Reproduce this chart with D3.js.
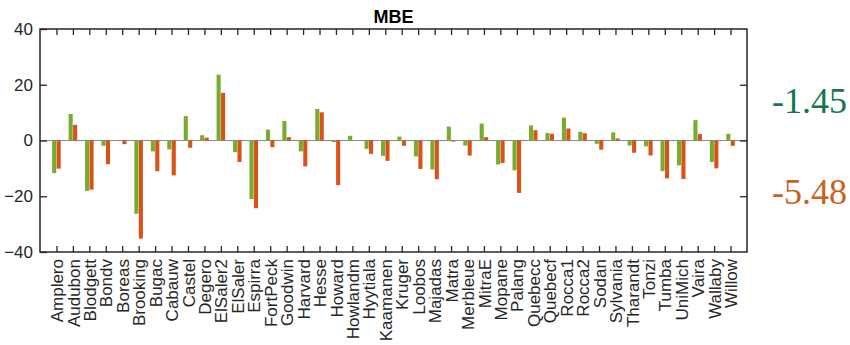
<!DOCTYPE html>
<html>
<head>
<meta charset="utf-8">
<script src="https://cdn.jsdelivr.net/npm/d3@7/dist/d3.min.js"></script>
<style>
  html, body { margin: 0; padding: 0; background: #fff; }
  svg { display: block; }
  .tick text { font-family: "Liberation Sans", Arial, sans-serif; fill: #262626; }
</style>
</head>
<body>
<svg id="chart" width="850" height="345"></svg>
<script>
// Sites along the x axis
const sites = ["Amplero","Audubon","Blodgett","Bondv","Boreas","Brooking","Bugac","Cabauw","Castel","Degero",
  "ElSaler2","ElSaler","Espirra","FortPeck","Goodwin","Harvard","Hesse","Howard","Howlandm","Hyytiala",
  "Kaamanen","Kruger","Loobos","Majadas","Matra","Merbleue","MitraE","Mopane","Palang","Quebecc",
  "Quebecf","Rocca1","Rocca2","Sodan","Sylvania","Tharandt","Tonzi","Tumba","UniMich","Vaira",
  "Wallaby","Willow"];

// Mean bias error per site, first model (green)
const mbeGreen = [-11.7, 9.5, -18.1, -1.9, 0.0, -26.3, -3.9, -3.2, 8.8, 1.9,
  23.6, -4.2, -21.0, 3.9, 7.0, -3.9, 11.3, -0.6, 1.7, -3.0,
  -5.5, 1.4, -5.7, -10.4, 5.0, -1.8, 6.1, -8.6, -10.7, 5.4,
  2.7, 8.2, 3.1, -1.2, 2.9, -1.8, -2.1, -11.0, -8.9, 7.3,
  -7.7, 2.4];

// Mean bias error per site, second model (orange)
const mbeOrange = [-10.1, 5.6, -17.6, -8.5, -1.3, -35.2, -11.0, -12.5, -2.6, 1.0,
  17.1, -7.7, -24.3, -2.4, 1.2, -9.3, 10.1, -16.0, 0.0, -4.8,
  -7.3, -1.9, -10.2, -13.9, -0.4, -5.4, 1.2, -8.1, -18.8, 3.7,
  2.4, 4.3, 2.6, -3.3, 0.7, -4.4, -5.4, -13.6, -13.8, 2.3,
  -10.0, -1.9];

// Overall means shown beside the plot
const overallMeans = ["-1.45", "-5.48"];
const yTicks = [-40, -20, 0, 20, 40];
const seriesNames = ["green", "orange"];
const seriesColors = { green: "#77ac30", orange: "#d95319" };
const meanColors = ["#11784f", "#c9611d"];

const svg = d3.select("#chart");
const plotLeft = 40, plotRight = 747, plotTop = 29, plotBottom = 252;

const x = d3.scaleLinear().domain([0, sites.length + 1]).range([plotLeft, plotRight]);
const y = d3.scaleLinear().domain([-40, 40]).range([plotBottom, plotTop]);
const inner = d3.scaleBand().domain(seriesNames).range([-0.26, 0.26]).paddingInner(0.08);

const idx = d3.range(1, sites.length + 1);
const axisColor = "#262626";

// zero line
svg.append("line")
  .attr("x1", plotLeft).attr("x2", plotRight)
  .attr("y1", y(0)).attr("y2", y(0))
  .attr("stroke", "#8a8a8a").attr("stroke-width", 1.2);

// bars
const data = [];
sites.forEach((s, i) => {
  data.push({ site: s, i: i + 1, series: "green", v: mbeGreen[i] });
  data.push({ site: s, i: i + 1, series: "orange", v: mbeOrange[i] });
});
const bw = x(inner.bandwidth()) - x(0);
svg.append("g").selectAll("rect").data(data).join("rect")
  .attr("x", d => x(d.i + inner(d.series)))
  .attr("width", bw)
  .attr("y", d => y(Math.max(0, d.v)))
  .attr("height", d => Math.abs(y(d.v) - y(0)))
  .attr("fill", d => seriesColors[d.series]);

// axes with inward ticks
function styleAxis(g) {
  g.selectAll("path, line").attr("stroke", axisColor).attr("stroke-width", 1.3);
  g.select(".domain").remove();
}

svg.append("g").attr("transform", `translate(${plotLeft},0)`)
  .call(d3.axisLeft(y).tickValues(yTicks).tickSize(-7).tickPadding(7))
  .call(styleAxis)
  .selectAll("text").attr("font-size", 17);

svg.append("g").attr("transform", `translate(${plotRight},0)`)
  .call(d3.axisRight(y).tickValues(yTicks.slice(1, -1)).tickSize(-7).tickFormat(""))
  .call(styleAxis);

svg.append("g").attr("transform", `translate(0,${plotTop})`)
  .call(d3.axisTop(x).tickValues(idx).tickSize(-6).tickFormat(""))
  .call(styleAxis);

const xb = svg.append("g").attr("transform", `translate(0,${plotBottom})`)
  .call(d3.axisBottom(x).tickValues(idx).tickSize(-6).tickFormat(i => sites[i - 1]))
  .call(styleAxis);
xb.selectAll("text")
  .attr("font-size", 17)
  .attr("text-anchor", "end")
  .attr("transform", "rotate(-90)")
  .attr("x", -7)
  .attr("y", 0)
  .attr("dy", "0.36em");

// frame
svg.append("rect")
  .attr("x", plotLeft).attr("y", plotTop)
  .attr("width", plotRight - plotLeft).attr("height", plotBottom - plotTop)
  .attr("fill", "none").attr("stroke", axisColor).attr("stroke-width", 1.5);

// title
svg.append("text")
  .attr("x", (plotLeft + plotRight) / 2).attr("y", 23)
  .attr("text-anchor", "middle")
  .attr("font-family", "Liberation Sans, Arial, sans-serif")
  .attr("font-weight", "bold").attr("font-size", 18)
  .attr("fill", "#000")
  .text("MBE");

// overall means
svg.append("g").selectAll("text").data(overallMeans).join("text")
  .attr("x", 772)
  .attr("y", (d, i) => [113, 204][i])
  .attr("font-family", "Liberation Serif, 'Times New Roman', serif")
  .attr("font-size", 36)
  .attr("fill", (d, i) => meanColors[i])
  .text(d => d);
</script>
</body>
</html>
